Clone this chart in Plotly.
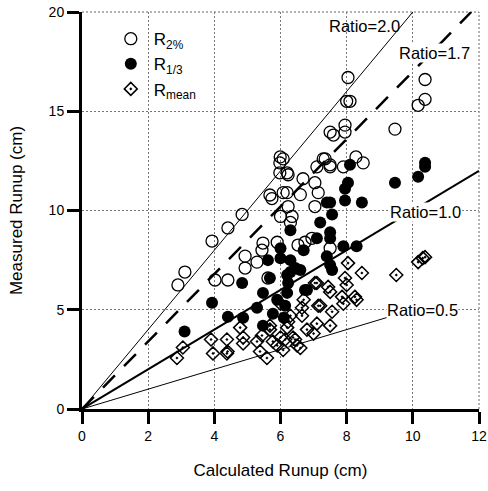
import plotly.graph_objects as go

# R2% (open circles)
r2_x = [2.9, 3.11, 3.93, 4.41, 4.84, 5.68, 5.74, 5.98, 5.98, 5.99, 6.23, 6.68, 7.1, 7.35, 7.5, 7.6,
        7.95, 7.95, 8.04, 8.0, 8.1, 10.37, 10.37, 10.16, 9.46, 8.28, 8.5, 7.9, 7.5, 7.04, 7.14, 7.04,
        4.02, 4.41, 4.93, 4.93, 5.29, 5.47, 5.44, 5.9, 6.08, 6.6, 6.23, 6.35, 6.3, 6.53, 6.74, 6.95,
        5.62, 7.5, 6.08, 6.2, 7.29, 7.5, 6.0, 6.2]
r2_y = [6.25, 6.9, 8.46, 9.12, 9.8, 10.78, 10.6, 11.9, 12.4, 12.7, 11.8, 11.6, 12.2, 12.6, 13.95, 13.8,
        13.95, 14.3, 16.7, 15.5, 15.5, 16.6, 15.6, 15.3, 14.1, 12.7, 12.4, 12.2, 12.2, 11.4, 10.9, 10.2,
        6.5, 6.5, 7.1, 7.7, 7.4, 8.36, 8.0, 8.4, 10.9, 10.8, 10.2, 9.7, 9.4, 8.26, 8.4, 8.6,
        6.6, 8.1, 12.6, 11.9, 12.6, 12.3, 9.7, 10.9]

# R1/3 (filled circles)
r13_x = [3.1, 3.93, 4.41, 4.87, 5.29, 5.47, 4.84, 5.47, 5.77, 6.14, 6.2, 6.23, 6.74, 5.62, 6.0, 6.0,
         6.3, 7.2, 7.4, 7.1, 6.7, 6.3, 6.3, 6.45, 5.68, 6.2, 6.6, 6.8, 7.4, 7.5, 7.56, 7.9, 8.3, 7.5,
         7.5, 7.56, 7.5, 7.95, 8.46, 7.95, 8.04, 8.1, 9.46, 10.37, 10.37, 10.16, 5.9, 6.1]
r13_y = [3.9, 5.35, 4.65, 4.6, 5.1, 5.85, 6.35, 4.2, 4.8, 5.2, 5.85, 6.35, 6.0, 7.5, 8.1, 7.6,
         9.0, 9.4, 10.4, 8.6, 8.0, 7.5, 6.9, 7.1, 6.6, 6.75, 7.0, 6.0, 7.7, 7.25, 7.0, 8.2, 8.2, 8.9,
         8.6, 9.8, 10.4, 10.5, 10.4, 11.1, 11.4, 12.3, 11.4, 12.4, 12.2, 11.7, 5.5, 4.6]

# Rmean (open diamonds with dot)
rm_x = [2.87, 3.05, 3.9, 3.96, 4.38, 4.38, 4.4, 4.78, 4.87, 4.87, 5.29, 5.44, 5.38, 5.59, 5.77, 5.68,
        5.68, 6.08, 6.14, 6.2, 6.23, 6.3, 6.0, 6.38, 6.5, 6.6, 6.65, 6.65, 6.8, 7.0, 7.1, 7.14, 7.1,
        6.44, 7.2, 7.5, 7.56, 7.9, 8.3, 8.04, 8.46, 7.95, 8.0, 7.04, 7.44, 7.5, 8.25, 7.86, 9.5,
        10.16, 10.3, 10.37, 6.0, 5.9, 6.7]
rm_y = [2.57, 3.1, 3.5, 2.8, 3.5, 2.8, 2.9, 4.1, 3.6, 3.3, 3.4, 3.7, 2.9, 2.57, 3.4, 4.2,
        4.0, 2.97, 3.5, 4.1, 4.4, 4.7, 5.3, 3.6, 3.2, 3.07, 5.1, 4.7, 4.0, 3.8, 4.3, 5.2, 6.35,
        3.5, 5.2, 4.2, 4.9, 5.3, 5.5, 7.35, 6.85, 6.6, 6.25, 6.35, 6.15, 5.9, 5.65, 5.65, 6.75,
        7.4, 7.6, 7.65, 3.6, 3.2, 5.5]

# Reference ratio lines: ratio, end x, label position
ratios = [2.0, 1.7, 1.0, 0.5]
ratio_end_x = [10.0, 11.765, 12.0, 9.3]
ratio_labels = ["Ratio=2.0", "Ratio=1.7", "Ratio=1.0", "Ratio=0.5"]
label_x = [8.55, 10.65, 10.37, 10.3]
label_y = [19.3, 17.95, 9.9, 5.0]

x_ticks = [0, 2, 4, 6, 8, 10, 12]
y_ticks = [0, 5, 10, 15, 20]

FONT = "Liberation Sans, Arial, sans-serif"

fig = go.Figure()

line_styles = [dict(color="black", width=1),
               dict(color="black", width=2.5, dash="17px,13px"),
               dict(color="black", width=2),
               dict(color="black", width=1)]
for r, xe, st in zip(ratios, ratio_end_x, line_styles):
    fig.add_trace(go.Scatter(x=[0, xe], y=[0, r * xe], mode="lines", line=st,
                             showlegend=False, hoverinfo="skip"))

fig.add_trace(go.Scatter(x=r2_x, y=r2_y, mode="markers", name="R<sub>2%</sub>",
                         marker=dict(symbol="circle-open", size=12, color="black",
                                     line=dict(width=1.3, color="black"))))
fig.add_trace(go.Scatter(x=r13_x, y=r13_y, mode="markers", name="R<sub>1/3</sub>",
                         marker=dict(symbol="circle", size=12, color="black",
                                     line=dict(width=0))))
fig.add_trace(go.Scatter(x=rm_x, y=rm_y, mode="markers", name="R<sub>mean</sub>",
                         marker=dict(symbol="diamond-open-dot", size=10, color="black",
                                     line=dict(width=1.5, color="black"))))

for t, lx, ly in zip(ratio_labels, label_x, label_y):
    fig.add_annotation(x=lx, y=ly, text=t, showarrow=False,
                       font=dict(family=FONT, size=16.5, color="black"),
                       bgcolor="white" if t != "Ratio=2.0" else "rgba(0,0,0,0)",
                       borderpad=0)

# dotted frame on the top and right edges
fig.add_shape(type="line", xref="paper", yref="paper", x0=0, x1=1, y0=1, y1=1,
              line=dict(color="#666", width=1, dash="2px,2px"), layer="below")
fig.add_shape(type="line", xref="paper", yref="paper", x0=1, x1=1, y0=0, y1=1,
              line=dict(color="#666", width=1, dash="2px,2px"), layer="below")

axis_common = dict(
    showline=True, linecolor="black", linewidth=3,
    ticks="outside", ticklen=12, tickwidth=2.5, tickcolor="black",
    showgrid=True, gridcolor="#777", griddash="2px,2px", gridwidth=1,
    zeroline=False, automargin=False, ticklabeloverflow="allow",
    tickfont=dict(family=FONT, size=14, color="black"),
)

fig.update_xaxes(range=[0, 12], tickvals=x_ticks,
                 title=dict(text="Calculated Runup (cm)", font=dict(family=FONT, size=17, color="black"),
                            standoff=22),
                 **axis_common)
fig.update_yaxes(range=[0, 20], tickvals=y_ticks,
                 title=dict(text="Measured Runup (cm)", font=dict(family=FONT, size=17, color="black"),
                            standoff=22),
                 **axis_common)

fig.update_layout(
    width=488, height=491,
    margin=dict(l=82, r=9, t=12, b=82),
    plot_bgcolor="white", paper_bgcolor="white",
    font=dict(family=FONT, color="black"),
    legend=dict(x=0.065, y=0.977, xanchor="left", yanchor="top",
                bgcolor="rgba(0,0,0,0)", font=dict(family=FONT, size=17, color="black"),
                itemwidth=36, tracegroupgap=0),
)

fig.write_html("out.html", config={"displayModeBar": False},
               post_script="document.body.style.margin='0';")
